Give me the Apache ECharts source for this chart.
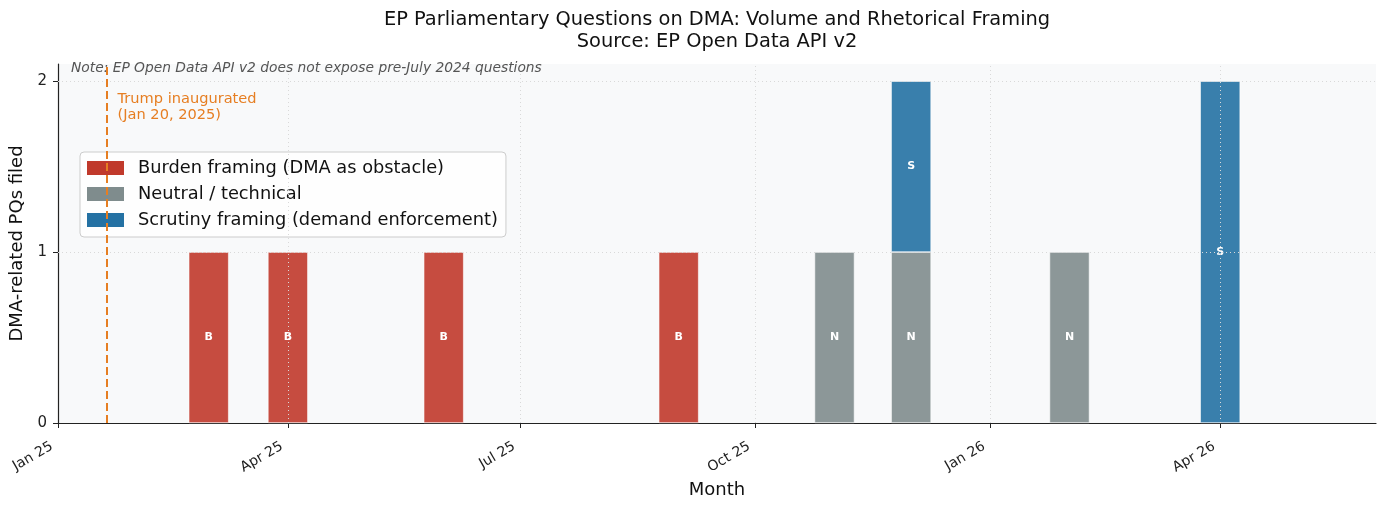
<!DOCTYPE html>
<html><head><meta charset="utf-8">
<script src="https://cdn.jsdelivr.net/npm/echarts@6/dist/echarts.min.js"></script>
<style>html,body{margin:0;padding:0;background:#fff}#c{width:1386px;height:507px}</style>
</head><body><div id="c"></div>
<script>
// ---- data ----
const months = ['2025-03', '2025-04', '2025-06', '2025-09', '2025-11', '2025-12', '2026-02', '2026-04'];
const burden = [1, 1, 1, 1, 0, 0, 0, 0];
const neutral = [0, 0, 0, 0, 1, 1, 1, 0];
const scrutiny = [0, 0, 0, 0, 0, 1, 0, 2];
const xTickMonths = ['2025-01', '2025-04', '2025-07', '2025-10', '2026-01', '2026-04'];
const yTicks = [0, 1, 2];
const seriesNames = ['Burden framing (DMA as obstacle)', 'Neutral / technical', 'Scrutiny framing (demand enforcement)'];
const seriesCodes = ['B', 'N', 'S'];
const inaugurationDate = '2025-01-20';
const xRange = ['2025-01-01', '2026-06-01'];
const yMax = 2.1;

const MON = ['Jan','Feb','Mar','Apr','May','Jun','Jul','Aug','Sep','Oct','Nov','Dec'];
function ts(s) { const p = s.split('-').map(Number); return new Date(p[0], p[1] - 1, p[2] || 1).getTime(); }
function fmt(v) { const d = new Date(v); return MON[d.getMonth()] + ' ' + String(d.getFullYear()).slice(2); }

const solid = ['#c0392b', '#7f8c8d', '#2471a3'];
const faded = ['rgba(192,57,43,0.9)', 'rgba(127,140,141,0.9)', 'rgba(36,113,163,0.9)'];
const FONT = 'DejaVu Sans';
const xTicks = xTickMonths.map(ts);

// rows are [count, month]; count first so that it is the stacked dimension
function barSeries(i, values) {
  return {
    name: seriesNames[i], type: 'bar', stack: 'pq', barWidth: 40,
    encode: { x: 1, y: 0 },
    data: months.map((m, k) => [values[k] > 0 ? values[k] : '-', ts(m)]),
    itemStyle: { color: faded[i], borderColor: '#ffffff', borderWidth: 0.6 },
    label: { show: true, position: 'inside', formatter: seriesCodes[i], color: '#fff', fontWeight: 'bold', fontSize: 11, fontFamily: FONT },
    emphasis: { disabled: true }
  };
}

const gridLineStyle = { color: '#d9d9d9', type: [1, 3], width: 1 };
const series = [barSeries(0, burden), barSeries(1, neutral), barSeries(2, scrutiny)];
series[0].markLine = {
  silent: true, symbol: 'none', label: { show: false },
  data: xTicks.slice(1).map(t => ({ xAxis: t, lineStyle: gridLineStyle }))
    .concat(yTicks.slice(1).map(v => ({ yAxis: v, lineStyle: gridLineStyle })))
};
series[1].markLine = {
  silent: true, symbol: 'none', label: { show: false },
  data: [{ xAxis: ts(inaugurationDate), lineStyle: { color: '#e67e22', type: [8, 4], width: 2 } }]
};

const chart = echarts.init(document.getElementById('c'), null, { renderer: 'canvas' });
const option = {
  animation: false,
  backgroundColor: '#ffffff',
  textStyle: { fontFamily: FONT },
  grid: { left: 58, right: 10, top: 64, bottom: 84, show: true, backgroundColor: '#f8f9fa', borderWidth: 0 },
  legend: {
    orient: 'vertical', left: 80, top: 152,
    itemWidth: 37, itemHeight: 14, itemGap: 8,
    padding: [7, 8, 8, 7],
    backgroundColor: 'rgba(255,255,255,0.8)', borderColor: '#cccccc', borderWidth: 1, borderRadius: 4,
    textStyle: { fontSize: 17.8, color: '#111', fontFamily: FONT, padding: [0, 0, 0, 9] },
    data: seriesNames.map((n, i) => ({ name: n, icon: 'rect', itemStyle: { color: solid[i], borderWidth: 0 } }))
  },
  xAxis: {
    type: 'value', min: ts(xRange[0]), max: ts(xRange[1]),
    name: 'Month', nameLocation: 'middle', nameGap: 50,
    nameTextStyle: { fontSize: 18, color: '#111', fontFamily: FONT },
    axisLine: { show: true, lineStyle: { color: '#222', width: 1.2 } },
    axisTick: { show: true, length: 5, customValues: xTicks, lineStyle: { color: '#222' } },
    axisLabel: { customValues: xTicks, formatter: fmt, rotate: 30, margin: 19, padding: [0, 7, 0, 0], fontSize: 14, color: '#222', fontFamily: FONT },
    splitLine: { show: false }
  },
  yAxis: {
    type: 'value', min: 0, max: yMax,
    name: 'DMA-related PQs filed', nameLocation: 'middle', nameGap: 25,
    nameTextStyle: { fontSize: 18, color: '#111', fontFamily: FONT },
    axisLine: { show: true, lineStyle: { color: '#222', width: 1.2 } },
    axisTick: { show: true, length: 5, customValues: yTicks, lineStyle: { color: '#222' } },
    axisLabel: { customValues: yTicks, fontSize: 15, color: '#222', margin: 11, fontFamily: FONT },
    splitLine: { show: false }
  },
  series: series
};
chart.setOption(option);

const gx = chart.convertToPixel({ xAxisIndex: 0 }, ts(inaugurationDate));
const centerX = (chart.convertToPixel({ xAxisIndex: 0 }, ts(xRange[0])) + chart.convertToPixel({ xAxisIndex: 0 }, ts(xRange[1]))) / 2;
chart.setOption({
  graphic: [
    { type: 'text', x: centerX, y: 9, silent: true,
      style: { text: 'EP Parliamentary Questions on DMA: Volume and Rhetorical Framing\nSource: EP Open Data API v2', align: 'center', verticalAlign: 'top', fontSize: 19.4, lineHeight: 22, fill: '#111', fontFamily: FONT } },
    { type: 'text', x: 71, y: 68, silent: true,
      style: { text: 'Note: EP Open Data API v2 does not expose pre-July 2024 questions', align: 'left', verticalAlign: 'middle', fontSize: 13.8, fontStyle: 'italic', fill: '#555', fontFamily: FONT } },
    { type: 'text', x: gx + 11, y: 91, silent: true,
      style: { text: 'Trump inaugurated\n(Jan 20, 2025)', align: 'left', verticalAlign: 'top', fontSize: 14.6, lineHeight: 16, fill: '#e67e22', fontFamily: FONT } }
  ]
});
</script></body></html>
